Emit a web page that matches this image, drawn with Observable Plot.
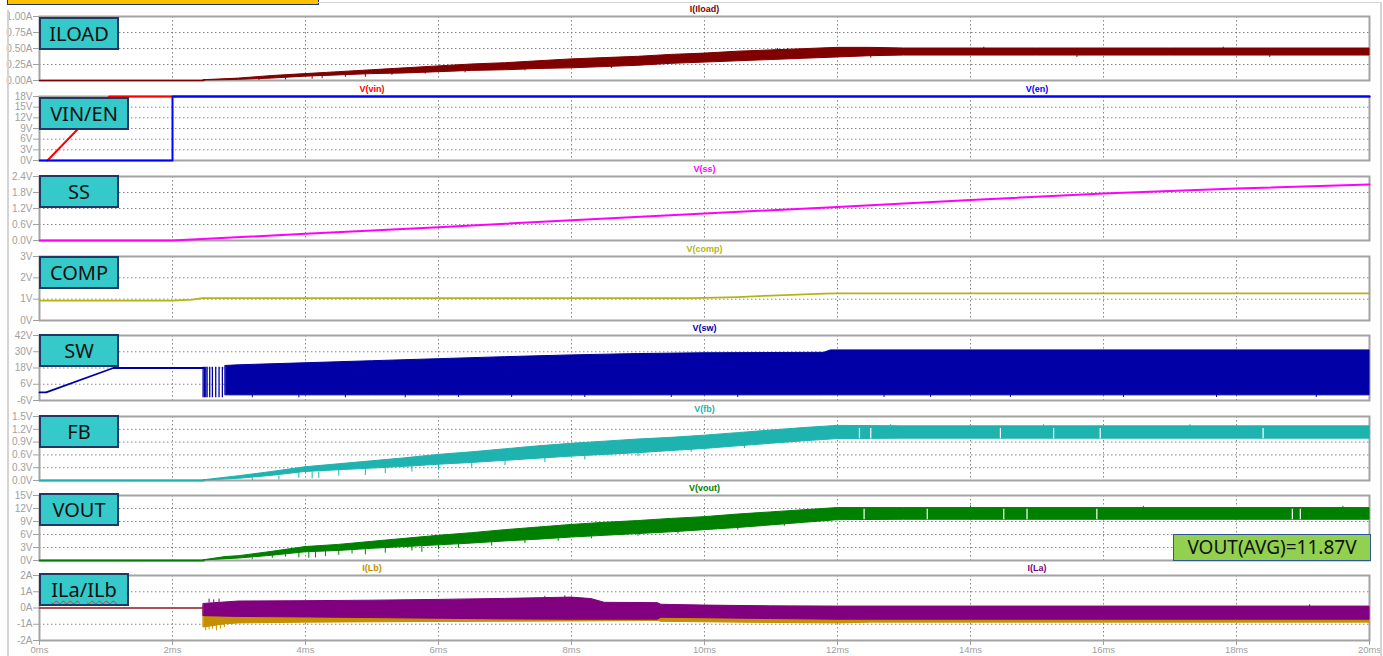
<!DOCTYPE html>
<html><head><meta charset="utf-8">
<script src="https://cdn.jsdelivr.net/npm/d3@7"></script>
<script src="https://cdn.jsdelivr.net/npm/@observablehq/plot@0.6"></script>
<style>
body{margin:0;background:#fff;}
#root{position:relative;width:1383px;height:656px;overflow:hidden;font-family:"Noto Sans",sans-serif;background:#fff;}
.panel{position:absolute;left:0;}
.tag{position:absolute;box-sizing:border-box;background:#36c9c9;border:2px solid #1f3864;color:#111;font-size:20px;display:flex;align-items:center;justify-content:center;line-height:1;}
.avg{position:absolute;box-sizing:border-box;background:#92d050;border:1.5px solid #2f5597;color:#111;font-size:19px;display:flex;align-items:center;justify-content:center;line-height:1;}
.wavy{text-decoration:underline wavy #e03030;text-decoration-thickness:1px;text-underline-offset:3px;}
.line{position:absolute;background:#d4d4d4;}
</style></head>
<body><div id="root"></div>
<script>
// ---------- data (time in ms) ----------
const xTicks = [0,2,4,6,8,10,12,14,16,18,20];

// ILOAD (A)
const iloadFlat = [[0,0],[2.47,0]];
const iloadBand = [[2.47,0,0.005],[3,0.01,0.03],[3.5,0.03,0.07],[4,0.06,0.1],[4.5,0.08,0.13],[5,0.1,0.16],[5.5,0.11,0.19],[6,0.13,0.22],[6.5,0.15,0.25],[7,0.16,0.27],[7.5,0.18,0.3],[8,0.19,0.33],[8.5,0.21,0.35],[9,0.23,0.37],[9.5,0.26,0.4],[10,0.28,0.42],[10.5,0.3,0.45],[11,0.32,0.47],[11.5,0.34,0.49],[12,0.36,0.51],[12.5,0.38,0.51],[13,0.39,0.5],[15,0.39,0.5],[17,0.39,0.5],[20,0.39,0.5]];
const iloadSpikes = [[3.3,0.0,0.02],[3.7,0.01,0.04],[4.1,0.02,0.06],[4.25,0.03,0.07],[4.6,0.05,0.09],[4.9,0.05,0.1],[5.3,0.08,0.11],[5.8,0.1,0.13],[6.4,0.12,0.15],[7.3,0.15,0.17],[8.6,0.19,0.22],[12.5,0.35,0.39],[15.6,0.36,0.39],[18.5,0.36,0.39],[11.1,0.47,0.5],[11.25,0.47,0.5],[14.2,0.5,0.52],[17.8,0.5,0.52]];

// VIN / EN (V)
const vinLine = [[0.12,0],[1.05,18],[20,18]];
const enLine = [[0,0],[2,0],[2,18],[20,18]];

// SS (V)
const ssLine = [[0,0],[2,0],[4,0.25],[6,0.5],[8,0.76],[10,1.01],[12,1.26],[14,1.52],[16,1.76],[18,1.95],[20,2.1]];

// COMP (V)
const compLine = [[0,0.93],[2,0.93],[2.3,0.98],[2.45,1.05],[9.8,1.05],[10.5,1.1],[11,1.17],[11.8,1.26],[12,1.27],[20,1.27]];

// SW (V)
const swPre = [[0,0],[0.1,0],[1.11,18],[2.47,18]];
const swPulses = [[2.46,-4,18.5],[2.48,-4,18.5],[2.5,-4,18.5],[2.52,-4,18.5],[2.56,-4,18.5],[2.6,-4,18.5],[2.65,-4,18.5],[2.7,-4,18.5],[2.75,-4,18.5]];
const swBand = [[2.8,-2.2,19.5],[3,-2.2,20],[4,-2.2,21.5],[5,-2.2,23],[6,-2.2,24.5],[7,-2.2,26],[8,-2.2,27.3],[9,-2.2,28.3],[10,-2.2,28.9],[11.8,-2.2,29.2],[11.9,-2.2,31],[20,-2.2,31]];
const swSpikes = [[3.2,-4,-1],[3.9,-4,-1],[4.6,-4,-1],[5.5,-4,-1],[6.3,-3.8,-1],[7.1,-3.8,-1],[8.2,-3.8,-1],[9.5,-3.8,-1],[10.5,-3.8,-1],[12.7,-3.8,-1],[13.4,-3.8,-1],[14.6,-3.8,-1],[16.3,-3.8,-1],[17.7,-3.8,-1],[19.2,-3.8,-1]];

// FB (V)
const fbFlat = [[0,0],[2.47,0]];
const fbBand = [[2.47,0,0.005],[3,0.04,0.1],[3.5,0.11,0.2],[4,0.2,0.31],[4.5,0.24,0.38],[5,0.28,0.45],[5.5,0.32,0.52],[6,0.37,0.6],[6.5,0.41,0.66],[7,0.46,0.73],[7.5,0.51,0.8],[8,0.56,0.86],[8.5,0.6,0.91],[9,0.64,0.96],[9.5,0.69,1.0],[10,0.74,1.05],[10.5,0.8,1.11],[11,0.86,1.17],[11.5,0.92,1.23],[12,0.97,1.28],[13,0.98,1.27],[16,0.98,1.27],[20,0.98,1.27]];
const fbSpikes = [[3.2,0,0.06],[3.6,0.02,0.1],[3.9,0.05,0.18],[4.1,0.04,0.2],[4.2,0.05,0.2],[4.5,0.1,0.24],[4.9,0.12,0.27],[5.2,0.16,0.3],[5.6,0.2,0.33],[6.0,0.25,0.37],[6.5,0.3,0.41],[7.0,0.35,0.46],[7.6,0.42,0.52],[8.2,0.48,0.58],[9.0,0.56,0.64],[9.8,0.66,0.73],[10.6,0.75,0.82],[12.8,1.27,1.31],[15.1,1.27,1.31],[17.3,1.27,1.31]];
const fbGaps = [[12.33,0.98,1.22],[12.5,0.98,1.22],[14.45,0.98,1.22],[15.25,0.98,1.22],[15.95,0.98,1.22],[18.4,0.98,1.22]];

// VOUT (V)
const voutFlat = [[0,0],[2.47,0]];
const voutBand = [[2.47,0,0.05],[2.8,0.3,0.8],[3,0.45,1.0],[3.5,1.1,2.0],[4,1.9,3.1],[4.5,2.2,3.6],[5,2.7,4.3],[5.5,3.1,5.0],[6,3.5,5.7],[6.5,3.9,6.3],[7,4.4,7.0],[7.5,4.8,7.6],[8,5.3,8.2],[8.5,5.7,8.7],[9,6.1,9.1],[9.5,6.5,9.6],[10,7.0,10.0],[10.5,7.5,10.6],[11,8.1,11.1],[11.5,8.7,11.6],[12,9.3,12.1],[13,9.4,12.1],[16,9.4,12.1],[20,9.4,12.1]];
const voutSpikes = [[3.2,0.2,0.6],[3.5,0.5,1.2],[3.7,0.8,1.5],[3.9,0.6,1.8],[4.05,0.5,1.9],[4.15,0.6,2.0],[4.3,0.9,2.1],[4.5,1.2,2.3],[4.7,1.5,2.5],[4.9,1.3,2.6],[5.2,1.7,2.9],[5.6,2.2,3.2],[5.75,1.9,3.3],[6.0,2.5,3.5],[6.3,2.8,3.8],[6.8,3.3,4.2],[7.3,3.9,4.7],[7.8,4.4,5.1],[8.3,5.0,5.5],[9.0,5.6,6.1],[9.6,6.1,6.6],[10.5,7.0,7.6],[11.2,7.9,8.4],[14.0,12.1,12.6],[16.6,12.1,12.5],[19.6,12.1,12.5]];
const voutGaps = [[12.4,9.4,11.8],[13.35,9.4,11.8],[14.5,9.4,11.8],[14.85,9.4,11.8],[15.9,9.4,11.8],[18.84,9.4,11.8],[18.96,9.4,11.8]];

// IL (A)
const ilFlat = [[0,0],[2.47,0]];
const laBand = [[2.47,-0.5,0.25],[3,-0.55,0.4],[4,-0.58,0.42],[5,-0.62,0.45],[6,-0.66,0.5],[7,-0.7,0.56],[8,-0.72,0.64],[8.3,-0.72,0.55],[8.5,-0.72,0.32],[9.3,-0.72,0.3],[9.35,-0.6,0.2],[10,-0.63,0.15],[11,-0.68,0.1],[12,-0.72,0.07],[20,-0.72,0.07]];
const lbBand = [[2.47,-1.2,0.1],[2.8,-1.0,0.1],[3,-0.95,0.1],[4,-0.9,0.1],[6,-0.86,0.1],[8,-0.83,0.1],[9.3,-0.8,0.1],[9.35,-0.85,0.1],[10,-0.88,0.1],[11,-0.92,0.1],[12,-0.95,0.1],[12.5,-0.9,0.1],[20,-0.9,0.1]];
const lbSpikes = [[2.5,-1.4,-0.5],[2.55,-1.35,-0.5],[2.6,-1.3,-0.5],[2.66,-1.4,-0.5],[2.72,-1.3,-0.5],[2.78,-1.2,-0.5]];
const laSpikes = [[2.55,0.3,0.55],[2.62,0.3,0.5],[2.7,0.3,0.55],[7.6,0.5,0.72],[7.9,0.55,0.75],[19.1,0.05,0.2]];

// ---------- rendering ----------
const W = 1383, ML = 39, MR = 14, MT = 16;
const root = document.getElementById("root");
const GRID = {stroke:"#7a7a7a", strokeOpacity:0.9, strokeDasharray:"1.5,2.5"};

function panel({top, bottom, domain, ticks, fmt, marks, xAxis=false}) {
  const mb = xAxis ? 16 : 0;
  const h = MT + (bottom - top) + mb;
  const svg = Plot.plot({
    width: W, height: h, marginLeft: ML, marginRight: MR, marginTop: MT, marginBottom: mb,
    x: {domain: [0, 20], axis: null},
    y: {domain, axis: null},
    style: {color: "#a0a0a0", background: "transparent", fontFamily: "Liberation Sans, Arial, sans-serif", overflow: "visible"},
    marks: [
      Plot.gridY(ticks, GRID),
      Plot.gridX(xTicks, GRID),
      Plot.frame({stroke: "#a3a3a3", strokeWidth: 2}),
      ...marks,
      Plot.axisY(ticks, {tickFormat: fmt, tickSize: 6, tickPadding: 1, fontSize: 10, stroke: "#a0a0a0"}),
      ...(xAxis ? [Plot.axisX(xTicks, {tickFormat: d => d + "ms", tickSize: 5, tickPadding: 1, fontSize: 9.5, stroke: "#a0a0a0"})] : [])
    ]
  });
  svg.classList.add("panel");
  svg.style.top = (top - MT) + "px";
  root.appendChild(svg);
}
const T = d => d[0], A = d => d[1], B = d => d[2];
const label = (t, s, c) => Plot.text([s], {x: [t], text: d => d, frameAnchor: "top", dy: -7, fill: c, fontSize: 9, fontWeight: "bold", lineAnchor: "middle"});
const band = (data, c) => Plot.areaY(data, {x: T, y1: A, y2: B, fill: c, stroke: c, strokeWidth: 1});
const rules = (data, c, w=1) => Plot.ruleX(data, {x: T, y1: A, y2: B, stroke: c, strokeWidth: w});
const line = (data, c, w=1.6) => Plot.line(data, {x: T, y: A, stroke: c, strokeWidth: w});

const cIload = "#800000", cVin = "#ff0000", cEn = "#0000ff", cSs = "#ff00ff", cComp = "#b4b414",
      cSw = "#0000a6", cFb = "#1fb3b0", cVout = "#008000", cLa = "#800080", cLb = "#c49000";

panel({top: 16, bottom: 80, domain: [0, 1], ticks: [0,0.25,0.5,0.75,1], fmt: d => d.toFixed(2) + "A",
  marks: [line(iloadFlat, cIload), band(iloadBand, cIload), rules(iloadSpikes, cIload), label(10, "I(Iload)", cIload)]});
panel({top: 96, bottom: 160, domain: [0, 18], ticks: [0,3,6,9,12,15,18], fmt: d => d + "V",
  marks: [line(vinLine, cVin, 2), line(enLine, cEn, 2), label(5, "V(vin)", cVin), label(15, "V(en)", cEn)]});
panel({top: 176, bottom: 240, domain: [0, 2.4], ticks: [0,0.6,1.2,1.8,2.4], fmt: d => d.toFixed(1) + "V",
  marks: [line(ssLine, cSs, 2), label(10, "V(ss)", cSs)]});
panel({top: 256, bottom: 320, domain: [0, 3], ticks: [0,1,2,3], fmt: d => d + "V",
  marks: [line(compLine, cComp, 1.8), label(10, "V(comp)", cComp)]});
panel({top: 335, bottom: 400, domain: [-6, 42], ticks: [-6,6,18,30,42], fmt: d => d + "V",
  marks: [line(swPre, cSw, 1.8), rules(swPulses, cSw, 1.3), band(swBand, cSw), rules(swSpikes, cSw), label(10, "V(sw)", cSw)]});
panel({top: 416, bottom: 480, domain: [0, 1.5], ticks: [0,0.3,0.6,0.9,1.2,1.5], fmt: d => d.toFixed(1) + "V",
  marks: [line(fbFlat, cFb, 1.8), band(fbBand, cFb), rules(fbSpikes, cFb), rules(fbGaps, "#ffffff", 1.2), label(10, "V(fb)", cFb)]});
panel({top: 495, bottom: 560, domain: [0, 15], ticks: [0,3,6,9,12,15], fmt: d => d + "V",
  marks: [line(voutFlat, cVout, 1.8), band(voutBand, cVout), rules(voutSpikes, cVout), rules(voutGaps, "#ffffff", 1.2), label(10, "V(vout)", cVout)]});
panel({top: 575, bottom: 640, domain: [-2, 2], ticks: [-2,-1,0,1,2], fmt: d => d + "A", xAxis: true,
  marks: [line(ilFlat, cLb, 1.6), line(ilFlat, cLa, 1.2), band(lbBand, cLb), rules(lbSpikes, cLb), band(laBand, cLa), rules(laSpikes, cLa), label(5, "I(Lb)", cLb), label(15, "I(La)", cLa)]});

// ---------- annotations ----------
const tags = [
  ["ILOAD", 17, 80], ["VIN/EN", 97, 90], ["SS", 175, 80], ["COMP", 256, 80],
  ["SW", 334, 80], ["FB", 415, 80], ["VOUT", 493, 80], ["ILa/ILb", 573, 90]
];
for (const [txt, top, w] of tags) {
  const d = document.createElement("div");
  d.className = "tag";
  d.style.left = "39px"; d.style.top = top + "px"; d.style.width = w + "px"; d.style.height = "33px";
  if (txt === "ILa/ILb") d.innerHTML = '<span class="wavy">ILa</span>/<span class="wavy">ILb</span>';
  else d.textContent = txt;
  root.appendChild(d);
}
const avg = document.createElement("div");
avg.className = "avg";
avg.style.cssText = "left:1173px;top:534px;width:198px;height:27px;";
avg.textContent = "VOUT(AVG)=11.87V";
root.appendChild(avg);

const yel = document.createElement("div");
yel.style.cssText = "position:absolute;left:7px;top:-20px;width:312px;height:25px;box-sizing:border-box;background:#ffc000;border:1.5px solid #1f3864;";
root.appendChild(yel);
for (const css of ["left:7px;top:10px;width:1.5px;height:650px;", "left:1380px;top:2px;width:1.5px;height:656px;", "left:318px;top:2px;width:1063px;height:1px;"]) {
  const l = document.createElement("div"); l.className = "line"; l.style.cssText += css; root.appendChild(l);
}
</script>
</body></html>
